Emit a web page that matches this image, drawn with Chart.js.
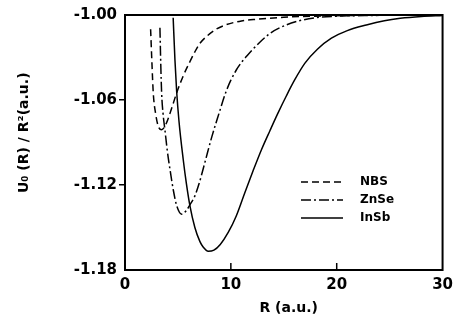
<!DOCTYPE html>
<html>
<head>
<meta charset="utf-8">
<script src="https://cdn.jsdelivr.net/npm/chart.js@4"></script>
<style>
  html, body { margin: 0; padding: 0; background: #fff; }
  #wrap { width: 459px; height: 324px; }
</style>
</head>
<body>
<div id="wrap"><canvas id="potChart"></canvas></div>
<script>
// values (R in a.u., U0/R^2 in a.u.)
const nbsR   = [2.42, 2.55, 2.67, 2.9, 3.14, 3.46, 3.93, 4.4, 4.88, 5.5, 6.13, 6.6, 7.08, 7.8, 8.5, 9.5, 11, 12.5, 15, 18, 22, 26, 30];
const nbsU   = [-1.010, -1.035, -1.055, -1.070, -1.0785, -1.081, -1.076, -1.066, -1.055, -1.043, -1.033, -1.026, -1.020, -1.0145, -1.0105, -1.007, -1.0042, -1.003, -1.0016, -1.0008, -1.0003, -1.0001, -1.0];

const znseR  = [3.30, 3.38, 3.46, 3.6, 3.77, 4.0, 4.25, 4.55, 4.9, 5.35, 5.8, 6.13, 6.6, 7.0, 7.55, 8.2, 8.9, 9.5, 10.0, 10.5, 11.0, 11.5, 12.1, 13.7, 15.25, 16.8, 18.4, 21, 25, 30];
const znseU  = [-1.009, -1.035, -1.055, -1.070, -1.081, -1.096, -1.109, -1.123, -1.135, -1.1406, -1.138, -1.134, -1.1277, -1.119, -1.104, -1.086, -1.069, -1.055, -1.046, -1.039, -1.0335, -1.029, -1.024, -1.013, -1.007, -1.0035, -1.0016, -1.0006, -1.0002, -1.0];

const insbR  = [4.55, 4.72, 4.88, 5.1, 5.5, 5.8, 6.13, 6.6, 7.08, 7.4, 7.86, 8.4, 9.0, 9.75, 10.5, 11.32, 12.1, 12.9, 13.7, 14.46, 15.25, 16.04, 17.0, 18.2, 19.5, 21, 22.8, 24.5, 26, 28, 30];
const insbU  = [-1.002, -1.032, -1.054, -1.075, -1.102, -1.119, -1.1345, -1.150, -1.160, -1.164, -1.1668, -1.166, -1.162, -1.1535, -1.142, -1.1254, -1.110, -1.0949, -1.0815, -1.0691, -1.057, -1.0457, -1.034, -1.024, -1.0164, -1.011, -1.007, -1.004, -1.0023, -1.001, -1.0003];

const seriesNames = ['NBS', 'ZnSe', 'InSb'];
const xTicks = [0, 10, 20, 30];
const yTicks = [-1.18, -1.12, -1.06, -1.00];

const pts = (xs, ys) => xs.map((x, i) => ({ x: x, y: ys[i] }));

const dashes = [[7, 4], [10, 3, 2, 3], []];

// frame around the plot, inward x ticks, and the legend inside the plot
const framePlugin = {
  id: 'frame',
  afterDraw(chart) {
    const { ctx, chartArea: a, scales } = chart;
    ctx.save();
    ctx.strokeStyle = '#000';
    ctx.lineWidth = 2;
    ctx.setLineDash([]);
    ctx.strokeRect(a.left, a.top, a.right - a.left, a.bottom - a.top);
    ctx.lineWidth = 1.5;
    xTicks.slice(1, -1).forEach(v => {
      const px = scales.x.getPixelForValue(v);
      ctx.beginPath();
      ctx.moveTo(px, a.bottom);
      ctx.lineTo(px, a.bottom - 7);
      ctx.stroke();
    });
    // legend
    ctx.font = 'bold 12px "DejaVu Sans"';
    ctx.fillStyle = '#000';
    ctx.textBaseline = 'middle';
    seriesNames.forEach((name, i) => {
      const y = 182 + i * 18;
      ctx.setLineDash(dashes[i]);
      ctx.lineWidth = 1.3;
      ctx.beginPath();
      ctx.moveTo(301, y);
      ctx.lineTo(343, y);
      ctx.stroke();
      ctx.fillText(name, 360, y);
    });
    ctx.restore();
  }
};

const ctx = document.getElementById('potChart').getContext('2d');

const potChart = new Chart(ctx, {
  type: 'line',
  data: {
    datasets: [
      { label: seriesNames[0], data: pts(nbsR, nbsU), borderDash: dashes[0] },
      { label: seriesNames[1], data: pts(znseR, znseU), borderDash: dashes[1] },
      { label: seriesNames[2], data: pts(insbR, insbU), borderDash: dashes[2] }
    ].map(d => Object.assign(d, {
      borderColor: '#000',
      borderWidth: 1.5,
      pointRadius: 0,
      fill: false,
      cubicInterpolationMode: 'monotone'
    }))
  },
  options: {
    responsive: true,
    maintainAspectRatio: false,
    animation: false,
    layout: { padding: { top: 15, right: 16, left: 0, bottom: 0 } },
    plugins: {
      legend: { display: false },
      tooltip: { enabled: false }
    },
    scales: {
      x: {
        type: 'linear',
        min: 0,
        max: 30,
        afterBuildTicks: s => { s.ticks = xTicks.map(v => ({ value: v })); },
        afterFit: s => { s.height = 54; },
        border: { display: false },
        grid: { display: false, drawTicks: false },
        ticks: {
          padding: 6,
          color: '#000',
          font: { family: 'DejaVu Sans', weight: 'bold', size: 15 }
        },
        title: {
          display: true,
          text: '  R (a.u.)',
          color: '#000',
          font: { family: 'DejaVu Sans', weight: 'bold', size: 14 },
          padding: { top: 0, bottom: 7 }
        }
      },
      y: {
        type: 'linear',
        min: -1.18,
        max: -1.00,
        afterBuildTicks: s => { s.ticks = yTicks.map(v => ({ value: v })); },
        afterFit: s => { s.width = 125; },
        border: { display: false },
        grid: {
          drawOnChartArea: false,
          drawTicks: true,
          tickLength: 6,
          lineWidth: 1.5,
          color: c => (c.index === 0 || c.index === yTicks.length - 1) ? 'rgba(0,0,0,0)' : '#000'
        },
        ticks: {
          padding: 2,
          color: '#000',
          font: { family: 'DejaVu Sans', weight: 'bold', size: 15 },
          callback: v => v.toFixed(2)
        },
        title: {
          display: true,
          text: '    U₀ (R) / R²(a.u.)',
          color: '#000',
          font: { family: 'DejaVu Sans', weight: 'bold', size: 14 },
          padding: { top: 16, bottom: 0 }
        }
      }
    }
  },
  plugins: [framePlugin]
});
</script>
</body>
</html>
